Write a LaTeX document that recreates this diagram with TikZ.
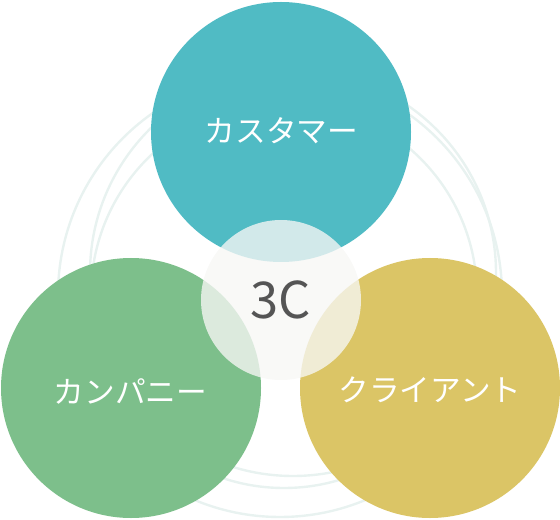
\documentclass[tikz,border=0pt]{standalone}
\usepackage{fontspec}
\newfontfamily\jpfont{Noto Sans CJK JP}
\definecolor{ringline}{RGB}{232,242,240}
\definecolor{customerteal}{RGB}{80,187,196}
\definecolor{companygreen}{RGB}{125,191,139}
\definecolor{clientyellow}{RGB}{219,197,102}
\definecolor{corewhite}{RGB}{247,247,245}
\definecolor{coretext}{RGB}{85,85,85}
\tikzset{every picture/.style={line width=0.75pt}}

\begin{document}
\begin{tikzpicture}[x=0.75pt,y=0.75pt,yscale=-1,xscale=1,
    ring/.style={draw=ringline, line width=1.8pt},
    cname/.style={text=white, inner sep=0.75pt, font=\jpfont\fontsize{23}{28}\selectfont},
    corename/.style={text=coretext, inner sep=0.75pt, font=\jpfont\fontsize{38}{44}\selectfont}]
        \useasboundingbox (0,0) rectangle (560,520);

        %Shape: Circle [rings]
        \draw [ring] (280,295) circle (222);
        \draw [ring] (293,273) circle (203);
        \draw [ring] (284,295) circle (193);

        %Shape: Circle [customer]
        \fill [customerteal] (281,132) circle (130);
        %Shape: Circle [company]
        \fill [companygreen] (131,388) circle (130);
        %Shape: Circle [client]
        \fill [clientyellow] (430,388) circle (130);
        %Shape: Circle [core]
        \fill [corewhite, fill opacity=0.78] (281,300) circle (80);

        % Text Node
        \node [cname] (customer) at (281.5,131) {カスタマー};
        % Text Node
        \node [cname] (company) at (130.5,391) {カンパニー};
        % Text Node
        \node [cname] (client) at (430,390) {クライアント};
        % Text Node
        \node [corename] (core) at (280.5,299.5) {3C};

    \end{tikzpicture}
\end{document}
